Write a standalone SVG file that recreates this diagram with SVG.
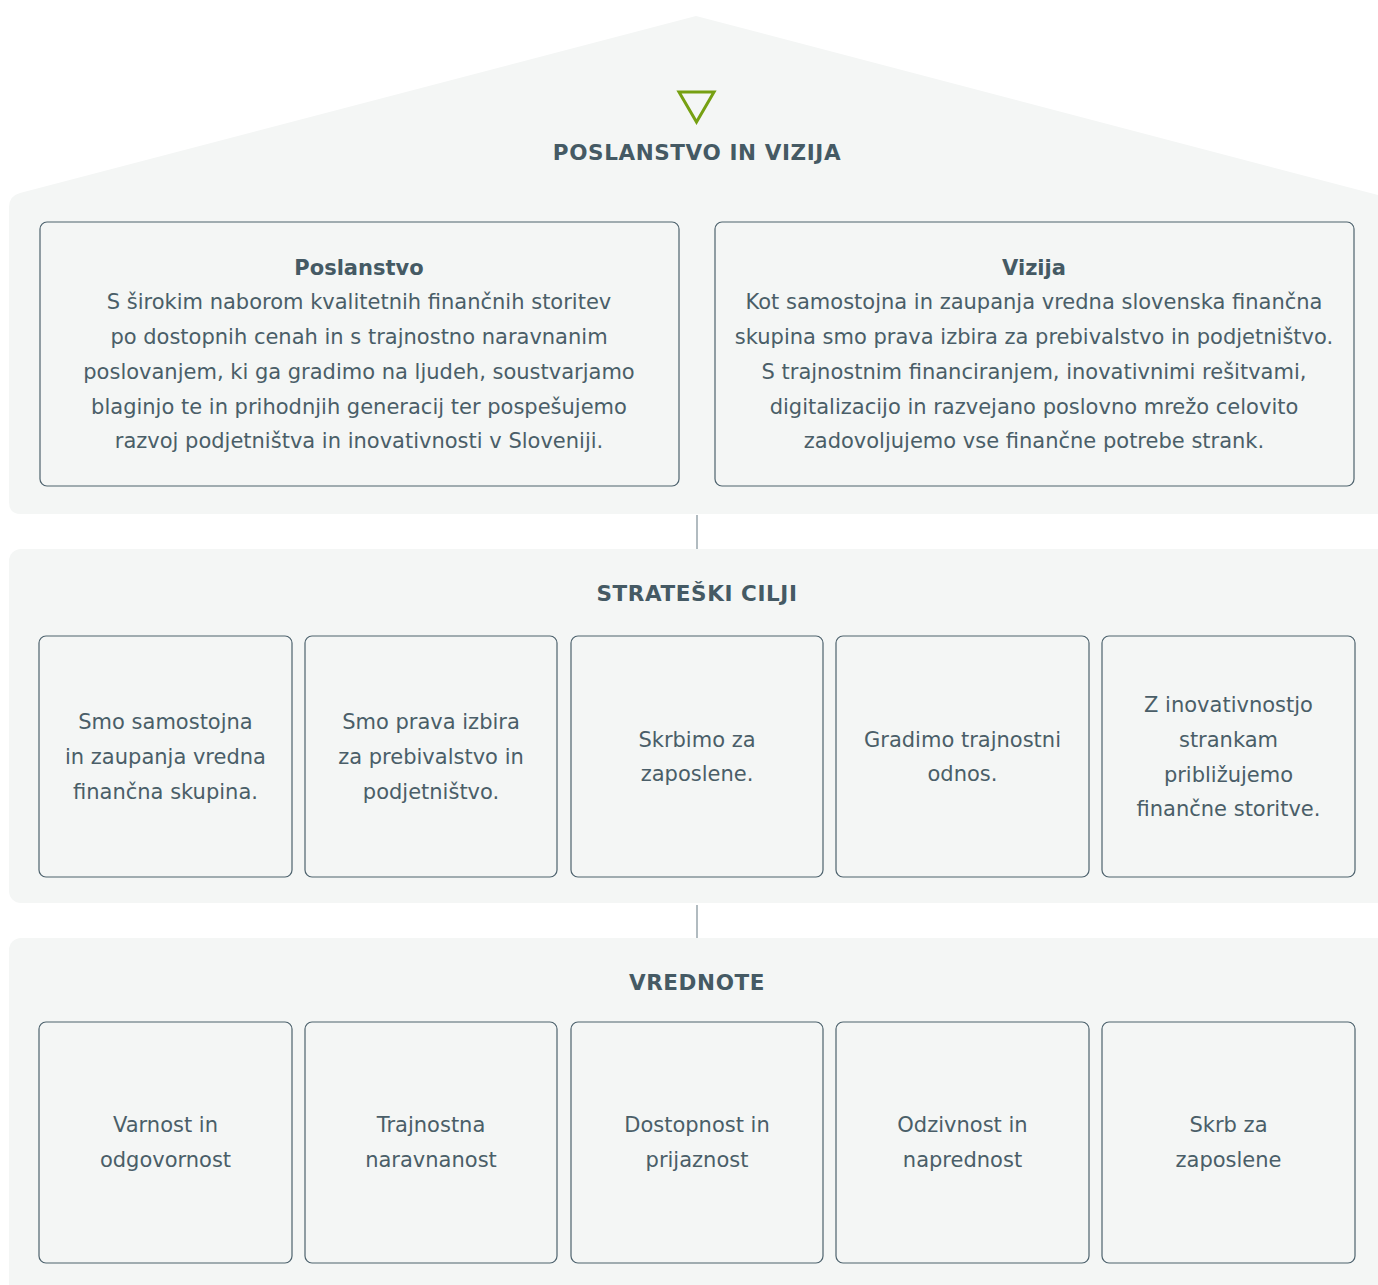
<svg xmlns="http://www.w3.org/2000/svg" width="1378" height="1285" viewBox="0 0 1378 1285">
<style>
.panel{fill:#f4f6f5}
.box{fill:#f4f6f5;stroke:#4d626d;stroke-width:1.2}
.h{font-family:"DejaVu Sans",Verdana,sans-serif;font-weight:bold;font-size:21.5px;fill:#455a64;text-anchor:middle;letter-spacing:0.6px}
.t{font-family:"DejaVu Sans",Verdana,sans-serif;font-size:21px;fill:#4a5e68;text-anchor:middle}
.tb{font-family:"DejaVu Sans",Verdana,sans-serif;font-size:21px;font-weight:bold;fill:#455a64;text-anchor:middle}
.conn{stroke:#7d8e96;stroke-width:1.2}
</style>
<rect width="1378" height="1285" fill="#ffffff"/>
<g id="roof-panel">
<path class="panel" d="M9 207 Q9 196 20 193 L696 16 L1378 195 L1390 514 L21 514 Q9 514 9 502 Z"/>
<polygon points="679,92 714,92 696.5,122" fill="none" stroke="#76a012" stroke-width="3" stroke-linejoin="miter"/>
<text class="h" x="697" y="160">POSLANSTVO IN VIZIJA</text>
</g>
<g id="poslanstvo">
<rect class="box" x="40" y="222" width="639" height="264" rx="7"/>
<text class="tb" x="359" y="275">Poslanstvo</text>
<text class="t" x="359" y="309">S širokim naborom kvalitetnih finančnih storitev</text>
<text class="t" x="359" y="344">po dostopnih cenah in s trajnostno naravnanim</text>
<text class="t" x="359" y="379">poslovanjem, ki ga gradimo na ljudeh, soustvarjamo</text>
<text class="t" x="359" y="414">blaginjo te in prihodnjih generacij ter pospešujemo</text>
<text class="t" x="359" y="448">razvoj podjetništva in inovativnosti v Sloveniji.</text>
</g>
<g id="vizija">
<rect class="box" x="715" y="222" width="639" height="264" rx="7"/>
<text class="tb" x="1034" y="275">Vizija</text>
<text class="t" x="1034" y="309">Kot samostojna in zaupanja vredna slovenska finančna</text>
<text class="t" x="1034" y="344">skupina smo prava izbira za prebivalstvo in podjetništvo.</text>
<text class="t" x="1034" y="379">S trajnostnim financiranjem, inovativnimi rešitvami,</text>
<text class="t" x="1034" y="414">digitalizacijo in razvejano poslovno mrežo celovito</text>
<text class="t" x="1034" y="448">zadovoljujemo vse finančne potrebe strank.</text>
</g>
<g id="cilji-panel">
<rect class="panel" x="9" y="549" width="1381" height="354" rx="12"/>
<text class="h" x="697" y="601">STRATEŠKI CILJI</text>
</g>
<g id="cilj1">
<rect class="box" x="39" y="636" width="253" height="241" rx="7"/>
<text class="t" x="165.5" y="729">Smo samostojna</text>
<text class="t" x="165.5" y="764">in zaupanja vredna</text>
<text class="t" x="165.5" y="799">finančna skupina.</text>
</g>
<g id="cilj2">
<rect class="box" x="305" y="636" width="252" height="241" rx="7"/>
<text class="t" x="431" y="729">Smo prava izbira</text>
<text class="t" x="431" y="764">za prebivalstvo in</text>
<text class="t" x="431" y="799">podjetništvo.</text>
</g>
<g id="cilj3">
<rect class="box" x="571" y="636" width="252" height="241" rx="7"/>
<text class="t" x="697" y="747">Skrbimo za</text>
<text class="t" x="697" y="781">zaposlene.</text>
</g>
<g id="cilj4">
<rect class="box" x="836" y="636" width="253" height="241" rx="7"/>
<text class="t" x="962.5" y="747">Gradimo trajnostni</text>
<text class="t" x="962.5" y="781">odnos.</text>
</g>
<g id="cilj5">
<rect class="box" x="1102" y="636" width="253" height="241" rx="7"/>
<text class="t" x="1228.5" y="712">Z inovativnostjo</text>
<text class="t" x="1228.5" y="747">strankam</text>
<text class="t" x="1228.5" y="782">približujemo</text>
<text class="t" x="1228.5" y="816">finančne storitve.</text>
</g>
<g id="vrednote-panel">
<rect class="panel" x="9" y="938" width="1381" height="360" rx="12"/>
<text class="h" x="697" y="990">VREDNOTE</text>
</g>
<g id="vrednota1">
<rect class="box" x="39" y="1022" width="253" height="241" rx="7"/>
<text class="t" x="165.5" y="1132">Varnost in</text>
<text class="t" x="165.5" y="1167">odgovornost</text>
</g>
<g id="vrednota2">
<rect class="box" x="305" y="1022" width="252" height="241" rx="7"/>
<text class="t" x="431" y="1132">Trajnostna</text>
<text class="t" x="431" y="1167">naravnanost</text>
</g>
<g id="vrednota3">
<rect class="box" x="571" y="1022" width="252" height="241" rx="7"/>
<text class="t" x="697" y="1132">Dostopnost in</text>
<text class="t" x="697" y="1167">prijaznost</text>
</g>
<g id="vrednota4">
<rect class="box" x="836" y="1022" width="253" height="241" rx="7"/>
<text class="t" x="962.5" y="1132">Odzivnost in</text>
<text class="t" x="962.5" y="1167">naprednost</text>
</g>
<g id="vrednota5">
<rect class="box" x="1102" y="1022" width="253" height="241" rx="7"/>
<text class="t" x="1228.5" y="1132">Skrb za</text>
<text class="t" x="1228.5" y="1167">zaposlene</text>
</g>
<g id="connectors">
<line class="conn" x1="697" y1="515" x2="697" y2="549"/>
<line class="conn" x1="697" y1="905" x2="697" y2="938"/>
</g>
</svg>
